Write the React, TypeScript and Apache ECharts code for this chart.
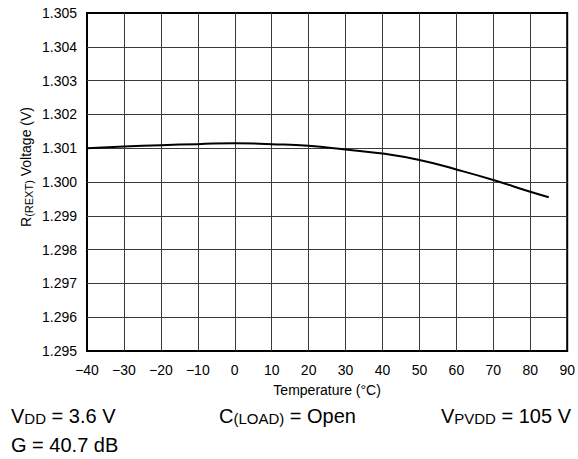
import React, { useEffect, useRef } from "react";
import * as echarts from "echarts";

const temperatures = [-40, -30, -20, -10, 0, 10, 20, 30, 40, 50, 60, 70, 80, 85];
const voltages = [
  1.301, 1.30105, 1.30109, 1.30112, 1.30115, 1.30112, 1.30107, 1.30096, 1.30084,
  1.30065, 1.30037, 1.30006, 1.29971, 1.29955,
];
const xMin = -40;
const xMax = 90;
const xStep = 10;
const yMin = 1.295;
const yMax = 1.305;
const yStep = 0.001;

const FONT = "'Liberation Sans', Arial, Helvetica, sans-serif";

export default function App() {
  const ref = useRef<HTMLDivElement>(null);

  useEffect(() => {
    if (!ref.current) return;
    const chart = echarts.init(ref.current, null, { renderer: "svg" });

    const bigRich = {
      n: { fontSize: 20, fontFamily: FONT, color: "#000", lineHeight: 20 },
      s: { fontSize: 15, fontFamily: FONT, color: "#000", lineHeight: 7, verticalAlign: "bottom" },
    };

    chart.setOption({
      animation: false,
      backgroundColor: "#fff",
      grid: {
        left: 87,
        right: 9.5,
        top: 13,
        bottom: 108,
        show: true,
        borderColor: "#000",
        borderWidth: 2,
        containLabel: false,
      },
      xAxis: {
        type: "value",
        min: xMin,
        max: xMax,
        interval: xStep,
        name: "Temperature (°C)",
        nameLocation: "middle",
        nameGap: 32,
        nameTextStyle: { fontSize: 14, fontFamily: FONT, color: "#000" },
        axisLine: { show: false },
        axisTick: { show: false },
        axisLabel: {
          fontSize: 14,
          fontFamily: FONT,
          color: "#000",
          margin: 12,
          formatter: (v: number) => String(v).replace("-", "\u2212"),
        },
        splitLine: {
          show: true,
          showMinLine: false,
          showMaxLine: false,
          lineStyle: { color: "#3a3a3a", width: 1 },
        },
      },
      yAxis: {
        type: "value",
        min: yMin,
        max: yMax,
        interval: yStep,
        axisLine: { show: false },
        axisTick: { show: false },
        axisLabel: {
          fontSize: 14,
          fontFamily: FONT,
          color: "#000",
          margin: 10,
          formatter: (v: number) => v.toFixed(3),
        },
        splitLine: {
          show: true,
          showMinLine: false,
          showMaxLine: false,
          lineStyle: { color: "#3a3a3a", width: 1 },
        },
      },
      series: [
        {
          type: "line",
          data: temperatures.map((t, i) => [t, voltages[i]]),
          smooth: true,
          showSymbol: false,
          lineStyle: { color: "#000", width: 2 },
          z: 5,
        },
      ],
      graphic: [
        {
          type: "text",
          x: 26,
          y: 167,
          rotation: Math.PI / 2,
          style: {
            text: "{n|R}{s|(REXT)}{n| Voltage (V)}",
            align: "center",
            verticalAlign: "middle",
            rich: {
              n: { fontSize: 14, fontFamily: FONT, color: "#000", lineHeight: 16 },
              s: { fontSize: 11, fontFamily: FONT, color: "#000", lineHeight: 7, verticalAlign: "bottom" },
            },
          },
        },
        {
          type: "text",
          x: 11,
          y: 416,
          style: {
            text: "{n|V}{s|DD}{n| = 3.6 V}",
            align: "left",
            verticalAlign: "middle",
            rich: bigRich,
          },
        },
        {
          type: "text",
          x: 219,
          y: 416,
          style: {
            text: "{n|C}{s|(LOAD)}{n| = Open}",
            align: "left",
            verticalAlign: "middle",
            rich: bigRich,
          },
        },
        {
          type: "text",
          x: 571,
          y: 416,
          style: {
            text: "{n|V}{s|PVDD}{n| = 105 V}",
            align: "right",
            verticalAlign: "middle",
            rich: bigRich,
          },
        },
        {
          type: "text",
          x: 11,
          y: 445,
          style: {
            text: "{n|G = 40.7 dB}",
            align: "left",
            verticalAlign: "middle",
            rich: bigRich,
          },
        },
      ],
    });

    return () => chart.dispose();
  }, []);

  return (
    <div
      ref={ref}
      style={{ position: "absolute", left: 0, top: 0, width: 578, height: 459 }}
    />
  );
}
